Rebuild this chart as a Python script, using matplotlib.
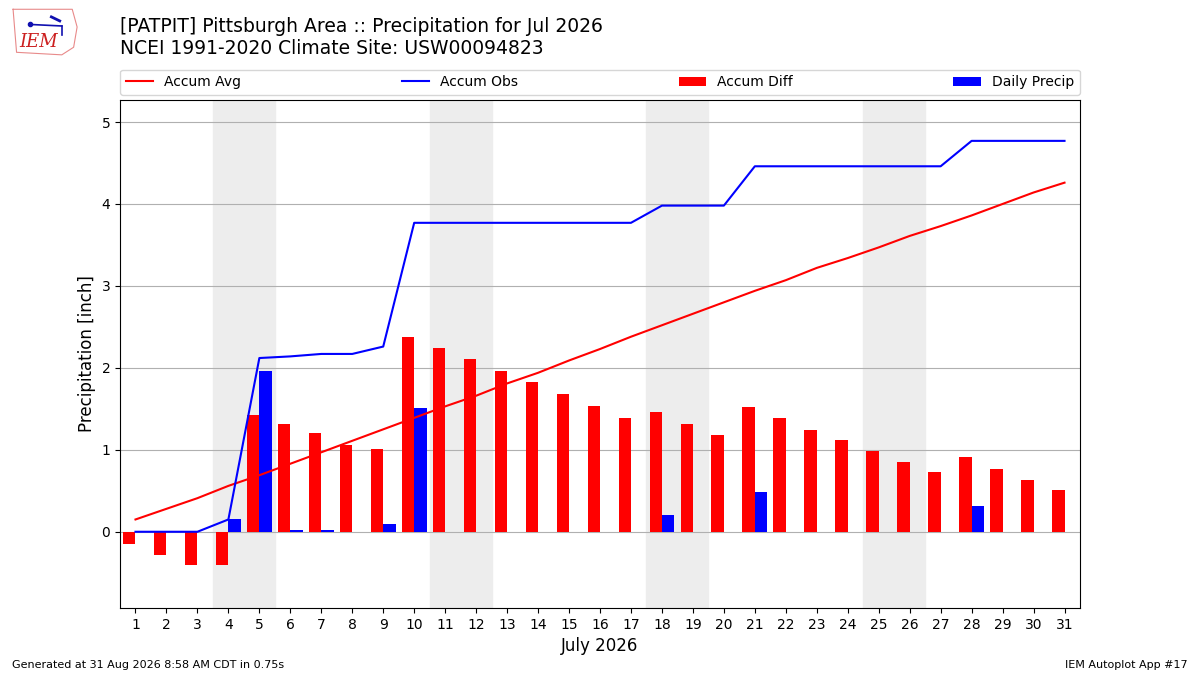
import matplotlib
matplotlib.use("Agg")
import matplotlib.pyplot as plt
import numpy as np

days = np.arange(1, 32)

# accumulated observed precip (inch)
accum_obs = [0.00, 0.00, 0.00, 0.15, 2.12, 2.14, 2.17, 2.17, 2.26, 3.77,
             3.77, 3.77, 3.77, 3.77, 3.77, 3.77, 3.77, 3.98, 3.98, 3.98,
             4.46, 4.46, 4.46, 4.46, 4.46, 4.46, 4.46, 4.77, 4.77, 4.77, 4.77]
# accumulated climatology (inch)
accum_avg = [0.15, 0.28, 0.41, 0.56, 0.69, 0.83, 0.97, 1.11, 1.25, 1.39,
             1.53, 1.66, 1.81, 1.94, 2.09, 2.23, 2.38, 2.52, 2.66, 2.80,
             2.94, 3.07, 3.22, 3.34, 3.47, 3.61, 3.73, 3.86, 4.00, 4.14, 4.26]
# observed minus average
accum_diff = [-0.15, -0.28, -0.41, -0.41, 1.43, 1.31, 1.20, 1.06, 1.01, 2.38,
              2.24, 2.11, 1.96, 1.83, 1.68, 1.54, 1.39, 1.46, 1.32, 1.18,
              1.52, 1.39, 1.24, 1.12, 0.99, 0.85, 0.73, 0.91, 0.77, 0.63, 0.51]
# daily precip
daily = [0.00, 0.00, 0.00, 0.15, 1.96, 0.02, 0.02, 0.00, 0.09, 1.51,
         0.00, 0.00, 0.00, 0.00, 0.00, 0.00, 0.00, 0.21, 0.00, 0.00,
         0.48, 0.00, 0.00, 0.00, 0.00, 0.00, 0.00, 0.31, 0.00, 0.00, 0.00]
weekends = [4, 11, 18, 25]

fig = plt.figure(figsize=(12, 6.75), dpi=100)
ax = fig.add_axes([0.1, 0.0993, 0.8, 0.7527])

for w in weekends:
    ax.axvspan(w - 0.5, w + 1.5, color="#ededed", zorder=0)

ax.plot(days, accum_avg, color="r", lw=1.5, label="Accum Avg", zorder=3)
ax.plot(days, accum_obs, color="b", lw=1.5, label="Accum Obs", zorder=3)
ax.bar(days - 0.2, accum_diff, width=0.4, color="r", label="Accum Diff", zorder=2)
ax.bar(days + 0.2, daily, width=0.4, color="b", label="Daily Precip", zorder=2)

ax.set_xlim(0.5, 31.5)
ax.set_ylim(-0.93, 5.27)
ax.set_xticks(days)
ax.set_yticks([0, 1, 2, 3, 4, 5])
ax.grid(axis="y", color="#b0b0b0", zorder=1)
ax.set_axisbelow(True)
ax.set_xlabel("July 2026", fontsize=12)
ax.set_ylabel("Precipitation [inch]", fontsize=12)

ax.legend(loc="lower left", bbox_to_anchor=(0, 1.01, 1, 0.05), ncol=4,
          mode="expand", borderaxespad=0, fontsize=10)

fig.text(0.1, 0.975, "[PATPIT] Pittsburgh Area :: Precipitation for Jul 2026\n"
         "NCEI 1991-2020 Climate Site: USW00094823", fontsize=13.5, va="top", ha="left")
fig.text(0.01, 0.01, "Generated at 31 Aug 2026 8:58 AM CDT in 0.75s", fontsize=8)
fig.text(0.99, 0.01, "IEM Autoplot App #17", fontsize=8, ha="right")

# rough logo
lax = fig.add_axes([0.008, 0.915, 0.058, 0.075])
lax.plot([0.05, 0.9, 0.97, 0.92, 0.75, 0.1, 0.05], [0.95, 0.95, 0.6, 0.2, 0.05, 0.1, 0.95],
         color="#e88a8a", lw=0.8)
lax.text(0.42, 0.3, "IEM", color="#cc2020", fontsize=13, family="DejaVu Serif",
         style="italic", ha="center", va="center")
lax.plot([0.3, 0.75], [0.65, 0.62], color="#1010b0", lw=1.2)
lax.plot([0.3], [0.65], "o", color="#1010b0", ms=3)
lax.plot([0.6, 0.72], [0.8, 0.72], color="#1010b0", lw=2)
lax.plot([0.75, 0.75], [0.62, 0.45], color="#1010b0", lw=1.2)
lax.set_xlim(0, 1)
lax.set_ylim(0, 1)
lax.axis("off")

fig.savefig("out.png", dpi=100)
